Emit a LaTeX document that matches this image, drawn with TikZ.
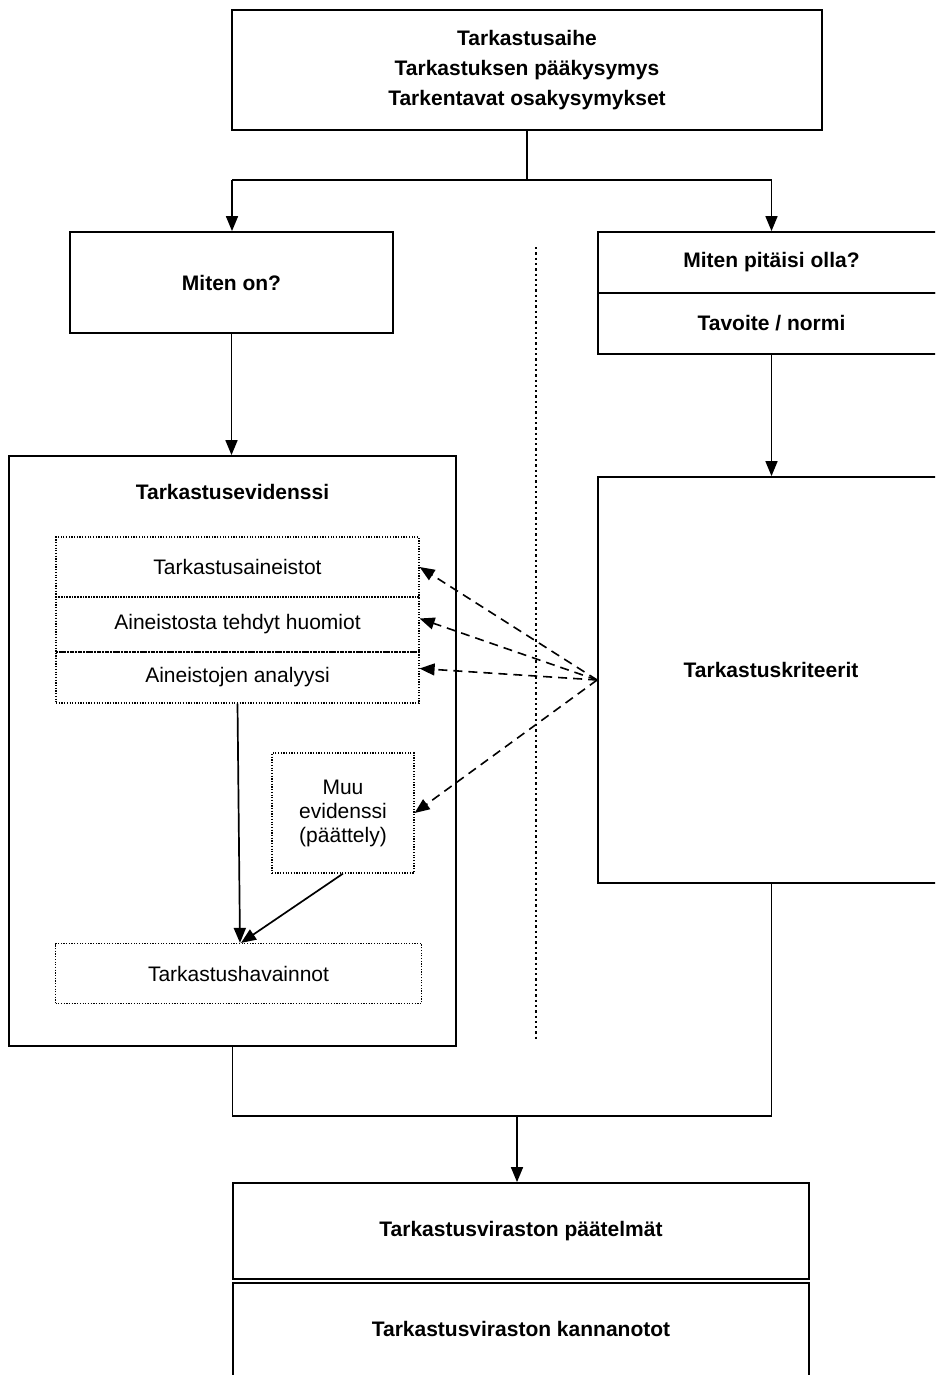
\documentclass[tikz,border=0pt]{standalone}
\usepackage{fontspec}
\setmainfont{Liberation Sans}
\usetikzlibrary{arrows.meta,calc}
\begin{document}
\begin{tikzpicture}[x=1pt,y=-1pt,
  solidbox/.style={draw, line width=1.8pt, inner sep=0pt, align=center},
  dotbox/.style={draw, line width=1.2pt, dash pattern=on 1.2pt off 1.5pt, inner sep=0pt, align=center},
  bf/.style={font=\fontsize{21}{24}\selectfont\bfseries, align=center},
  rg/.style={font=\fontsize{21}{24}\selectfont, align=center},
  conn/.style={line width=1.7pt},
  arr/.style={conn, -{Triangle[length=15pt,width=12pt]}},
  darr/.style={line width=1.6pt, dash pattern=on 9pt off 6pt, -{Triangle[length=15pt,width=12pt]}},
  vdot/.style={line width=2.3pt, dash pattern=on 2.3pt off 3pt}
]
\useasboundingbox (0,0) rectangle (935,1375);
\clip (0,0) rectangle (935,1375);

% top
\node[solidbox, bf, minimum width=590pt, minimum height=120pt] (top) at (527,70)
  {Tarkastusaihe\\[6pt]Tarkastuksen pääkysymys\\[6pt]Tarkentavat osakysymykset};

% left column
\node[solidbox, bf, minimum width=323pt, minimum height=101pt] (miten) at (231.5,282.5) {Miten on?};
\node[solidbox, minimum width=447pt, minimum height=590pt] (evid) at (232.5,751) {};
\node[bf] (evidt) at (232.5,492) {Tarkastusevidenssi};
\node[dotbox, rg, minimum width=363pt, minimum height=60pt] (b1) at (237.5,567) {Tarkastusaineistot};
\node[dotbox, rg, minimum width=363pt, minimum height=55pt] (b2) at (237.5,624.5) {Aineistosta tehdyt huomiot};
\node[dotbox, rg, minimum width=363pt, minimum height=51pt] (b3) at (237.5,677.5) {Aineistojen analyysi};
\node[dotbox, rg, minimum width=142pt, minimum height=120pt] (muu) at (343,813) {Muu\\evidenssi\\(päättely)};
\node[dotbox, rg, minimum width=366pt, minimum height=60pt] (hav) at (238.5,973.5) {Tarkastushavainnot};

% right column
\node[solidbox, bf, minimum width=347pt, minimum height=61pt] (ask) at (771.5,262.5) {Miten pitäisi olla?};
\node[solidbox, bf, minimum width=347pt, minimum height=61pt] (tav) at (771.5,323.5) {Tavoite / normi};
\node[solidbox, minimum width=347pt, minimum height=406pt] (krit) at (771.5,680) {};
\node[bf] (kritt) at (771,670) {Tarkastuskriteerit};

% bottom
\node[solidbox, bf, minimum width=576pt, minimum height=96pt] (pae) at (521,1231) {Tarkastusviraston päätelmät};
\node[solidbox, minimum width=576pt, minimum height=120pt] (kan) at (521,1343) {};
\node[bf] (kant) at (521,1329) {Tarkastusviraston kannanotot};

% divider
\coordinate (v1) at (536,247);
\coordinate (v2) at (536,1040);
\draw[vdot] (v1) -- (v2);

% connectors top
\coordinate (sl) at (232,180);
\coordinate (sr) at (771.5,180);
\draw[conn] (top.south) -- (top.south |- sl);
\draw[conn] (sl) -- (sr);
\draw[arr] (sl) -- (sl |- miten.north);
\draw[arr] (sr) -- (ask.north);
\draw[arr] (miten.south) -- (miten.south |- evid.north);
\draw[arr] (tav.south) -- (krit.north);

% inner arrows
\draw[arr] (b3.south) -- ([xshift=1.5pt]hav.north);
\draw[arr] (muu.south) -- ([xshift=2.5pt]hav.north);

% dashed arrows
\draw[darr] (krit.west) -- (b1.east);
\draw[darr] (krit.west) -- ([yshift=6pt]b2.east);
\draw[darr] (krit.west) -- ([yshift=9pt]b3.east);
\draw[darr] (krit.west) -- (muu.east);

% bottom connectors
\coordinate (jl) at (232,1116);
\coordinate (jm) at (517,1116);
\draw[conn] (evid.south) -- (evid.south |- jl) -| (krit.south);
\draw[arr] (jm) -- (jm |- pae.north);
\end{tikzpicture}
\end{document}
